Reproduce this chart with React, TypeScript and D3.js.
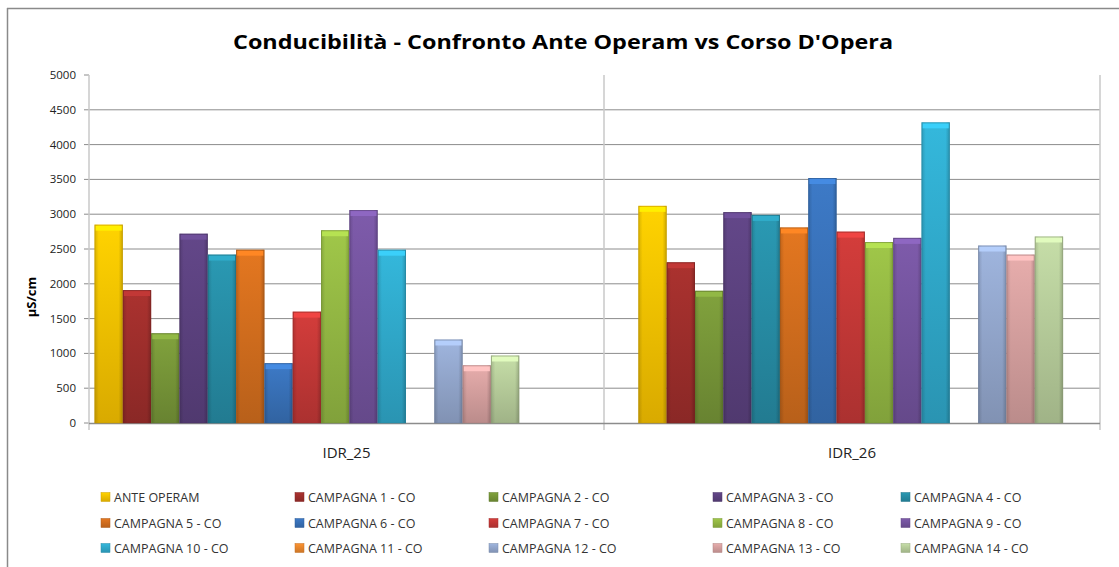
import React from "react";
import { scaleBand, scaleLinear, color as d3color } from "d3";

const categories = ["IDR_25", "IDR_26"];

const seriesNames = [
  "ANTE OPERAM",
  "CAMPAGNA 1 - CO",
  "CAMPAGNA 2 - CO",
  "CAMPAGNA 3 - CO",
  "CAMPAGNA 4 - CO",
  "CAMPAGNA 5 - CO",
  "CAMPAGNA 6 - CO",
  "CAMPAGNA 7 - CO",
  "CAMPAGNA 8 - CO",
  "CAMPAGNA 9 - CO",
  "CAMPAGNA 10 - CO",
  "CAMPAGNA 11 - CO",
  "CAMPAGNA 12 - CO",
  "CAMPAGNA 13 - CO",
  "CAMPAGNA 14 - CO",
];

// one value per series, null = no measurement
const idr25 = [2850, 1910, 1290, 2720, 2420, 2490, 860, 1600, 2770, 3060, 2490, null, 1200, 830, 970];
const idr26 = [3120, 2310, 1900, 3030, 2990, 2810, 3520, 2750, 2600, 2660, 4320, null, 2550, 2420, 2680];

const seriesColors = [
  "#ffc800", "#a22f2d", "#7a9a3a", "#5e4382", "#2891aa",
  "#d8711e", "#3a74bd", "#c93a38", "#98bd45", "#7756a2",
  "#31aed1", "#f08b2e", "#97acd2", "#dba4a3", "#bcd29f",
];

const yTicks = [0, 500, 1000, 1500, 2000, 2500, 3000, 3500, 4000, 4500, 5000];

const W = 1119;
const H = 567;
const left = 89;
const right = 1100;
const divider = 604;
const top = 75;
const bottom = 423;
const font = "'Open Sans', 'Noto Sans', sans-serif";

function shade(c: string, k: number) {
  const col = d3color(c)!;
  return (k > 0 ? col.brighter(k) : col.darker(-k)).formatHex();
}

export default function App() {
  const x0 = scaleBand()
    .domain(categories)
    .range([left, right])
    .paddingInner(0.219)
    .paddingOuter(0.039)
    .align(0.13);
  const x1 = scaleBand().domain(seriesNames).range([0, x0.bandwidth()]).padding(0);
  const y = scaleLinear().domain([0, 5000]).range([bottom, top]);
  const data = [idr25, idr26];
  const labelX = [(left + divider) / 2, (divider + right) / 2];

  return (
    <svg width={W} height={H} style={{ position: "absolute", left: 0, top: 0, background: "#fff" }}>
      <defs>
        {seriesColors.map((c, i) => (
          <linearGradient key={i} id={`g${i}`} x1="0" y1="0" x2="0" y2="1">
            <stop offset="0" stopColor={shade(c, 0.15)} />
            <stop offset="1" stopColor={shade(c, -0.45)} />
          </linearGradient>
        ))}
        <linearGradient id="edge" x1="0" y1="0" x2="1" y2="0">
          <stop offset="0" stopColor="#000" stopOpacity="0.15" />
          <stop offset="0.15" stopColor="#000" stopOpacity="0" />
          <stop offset="0.85" stopColor="#000" stopOpacity="0" />
          <stop offset="1" stopColor="#000" stopOpacity="0.2" />
        </linearGradient>
      </defs>

      {/* chart frame */}
      <line x1={7.5} y1={8} x2={7.5} y2={H} stroke="#8a8a8a" strokeWidth={1.5} />
      <line x1={7} y1={8.5} x2={W} y2={8.5} stroke="#8a8a8a" strokeWidth={1.5} />

      <text x={563} y={49} textAnchor="middle" fontFamily={font} fontWeight="bold" fontSize={20}
        textLength={660} lengthAdjust="spacingAndGlyphs" fill="#000">
        Conducibilità - Confronto Ante Operam vs Corso D'Opera
      </text>

      {/* grid */}
      {yTicks.map((t) => (
        <g key={t}>
          {t > 0 && t < 5000 && (
            <line x1={left} x2={right} y1={y(t)} y2={y(t)} stroke="#8c8c8c" strokeWidth={1} />
          )}
          <line x1={left - 5} x2={left} y1={y(t)} y2={y(t)} stroke="#8c8c8c" />
          <text x={left - 13} y={y(t) + 4} textAnchor="end" fontFamily={font} fontSize={11.5} fill="#222">
            {t}
          </text>
        </g>
      ))}
      {[left, divider, right].map((gx) => (
        <line key={gx} x1={gx} x2={gx} y1={top} y2={bottom + 7} stroke="#c8c8c8" strokeWidth={1.5} />
      ))}
      <line x1={left} x2={right} y1={bottom + 0.5} y2={bottom + 0.5} stroke="#8c8c8c" strokeWidth={1.5} />

      {/* bars */}
      {data.map((vals, ci) => (
        <g key={ci} transform={`translate(${x0(categories[ci])},0)`}>
          {vals.map((v, si) => {
            if (v == null) return null;
            const bx = x1(seriesNames[si])!;
            const bw = x1.bandwidth();
            const by = y(v);
            const bh = bottom - by;
            return (
              <g key={si}>
                <rect x={bx} y={by} width={bw} height={bh} fill={`url(#g${si})`} />
                <rect x={bx} y={by} width={bw} height={bh} fill="url(#edge)" />
                <rect x={bx + 1} y={by + 1} width={bw - 2} height={5} fill={shade(seriesColors[si], 0.5)} />
                <rect x={bx + 0.5} y={by + 0.5} width={bw - 1} height={bh - 0.5} fill="none"
                  stroke={shade(seriesColors[si], -0.8)} strokeOpacity={0.5} />
              </g>
            );
          })}
        </g>
      ))}

      {/* category labels */}
      {categories.map((c, i) => (
        <text key={c} x={labelX[i]} y={458} textAnchor="middle" fontFamily={font}
          fontSize={15} fill="#222">
          {c}
        </text>
      ))}

      <text transform={`translate(36,${(top + bottom) / 2 + 48}) rotate(-90)`} textAnchor="middle"
        fontFamily={font} fontSize={13} fontWeight="bold" fill="#000">
        µS/cm
      </text>

      {/* legend */}
      {seriesNames.map((s, i) => {
        const colX = [101, 295, 489, 713, 901];
        const rowY = [497, 523, 548];
        const lx = colX[i % 5];
        const ly = rowY[Math.floor(i / 5)];
        return (
          <g key={s}>
            <rect x={lx} y={ly - 4.5} width={9} height={9} fill={`url(#g${i})`} stroke={shade(seriesColors[i], -0.6)} strokeWidth={0.5} />
            <text x={lx + 13} y={ly + 4.5} fontFamily={font} fontSize={12.5} fill="#333">
              {s}
            </text>
          </g>
        );
      })}
    </svg>
  );
}
